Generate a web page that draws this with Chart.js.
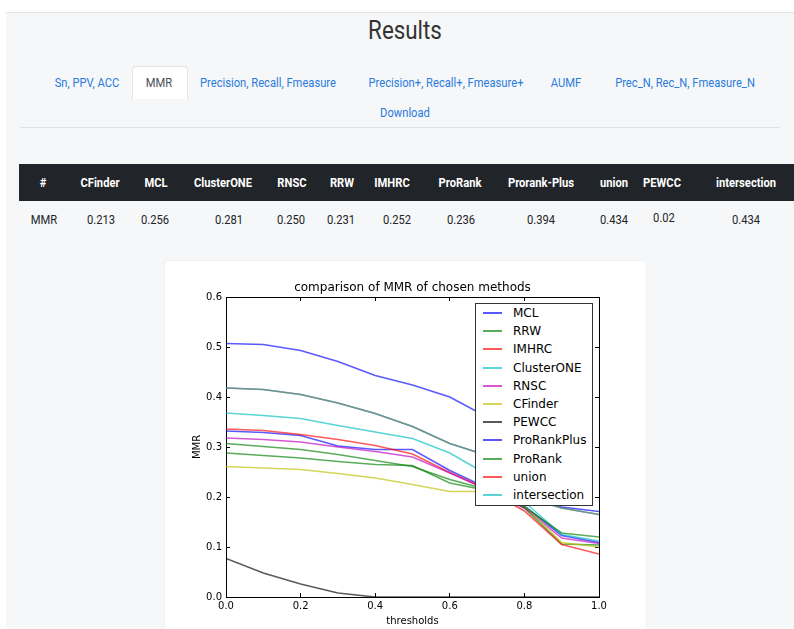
<!DOCTYPE html>
<html>
<head>
<meta charset="utf-8">
<title>Results - MMR</title>
<script src="https://cdn.jsdelivr.net/npm/chart.js@4.4.0/dist/chart.umd.min.js"></script>
<style>
  html, body { margin:0; padding:0; width:794px; height:629px; overflow:hidden; background:#fff; font-family: Roboto, "Open Sans", sans-serif; }
  #bg { position:absolute; left:6px; top:12px; right:0; bottom:0; background:#f6f7f8; border-top:1px solid #e3e4e6; }
  .t { position:absolute; white-space:nowrap; line-height:1; transform:translate(-50%,-50%) scaleX(.86); }
  .lnk { color:#2a7bde; font-size:13px; }
  .th { color:#fff; font-weight:bold; font-size:13px; }
  .td { color:#212529; font-size:13px; }
  #tab { position:absolute; left:132px; top:66px; width:54px; height:32px; background:#fff; border:1px solid #e2e5e8; border-bottom:none; border-radius:4px 4px 0 0; }
  #hr { position:absolute; left:20px; top:127px; width:760px; height:1px; background:#dfe2e5; }
  #thead { position:absolute; left:19px; top:164px; width:775px; height:37px; background:#212529; }
  #card { position:absolute; left:164px; top:260px; width:483px; height:380px; background:#fff; border:1px solid #f0f1f3; border-radius:4px; box-sizing:border-box; }
  #wrap { position:absolute; left:164px; top:260px; width:497px; height:369px; }
  #legend { position:absolute; left:475px; top:303px; width:118px; height:203px; box-sizing:border-box; background:#fff; border:1px solid #333; font-family:"DejaVu Sans"; font-size:12px; color:#000; }
  #legend .row { height:18.2px; display:flex; align-items:center; }
  #legend .hd { width:19px; height:2px; margin-left:7px; margin-right:11px; }
</style>
</head>
<body>
<div id="bg"></div>

<div class="t" style="left:405px;top:30px;font-size:26px;color:#333">Results</div>

<div id="tab"></div>
<div class="t lnk" style="left:87px;top:82px">Sn, PPV, ACC</div>
<div class="t" style="left:159px;top:82px;font-size:13px;color:#495057">MMR</div>
<div class="t lnk" style="left:268px;top:82px">Precision, Recall, Fmeasure</div>
<div class="t lnk" style="left:446px;top:82px">Precision+, Recall+, Fmeasure+</div>
<div class="t lnk" style="left:566px;top:82px">AUMF</div>
<div class="t lnk" style="left:685px;top:82px">Prec_N, Rec_N, Fmeasure_N</div>
<div class="t lnk" style="left:405px;top:112px">Download</div>
<div id="hr"></div>

<div id="thead"></div>
<div class="t th" style="left:43px;top:182px">#</div>
<div class="t th" style="left:100px;top:182px">CFinder</div>
<div class="t th" style="left:156px;top:182px">MCL</div>
<div class="t th" style="left:223px;top:182px">ClusterONE</div>
<div class="t th" style="left:292px;top:182px">RNSC</div>
<div class="t th" style="left:342px;top:182px">RRW</div>
<div class="t th" style="left:392px;top:182px">IMHRC</div>
<div class="t th" style="left:460px;top:182px">ProRank</div>
<div class="t th" style="left:541px;top:182px">Prorank-Plus</div>
<div class="t th" style="left:614px;top:182px">union</div>
<div class="t th" style="left:662px;top:182px">PEWCC</div>
<div class="t th" style="left:746px;top:182px">intersection</div>

<div class="t td" style="left:44px;top:219px">MMR</div>
<div class="t td" style="left:101px;top:219px">0.213</div>
<div class="t td" style="left:155px;top:219px">0.256</div>
<div class="t td" style="left:229px;top:219px">0.281</div>
<div class="t td" style="left:291px;top:219px">0.250</div>
<div class="t td" style="left:341px;top:219px">0.231</div>
<div class="t td" style="left:397px;top:219px">0.252</div>
<div class="t td" style="left:461px;top:219px">0.236</div>
<div class="t td" style="left:541px;top:219px">0.394</div>
<div class="t td" style="left:614px;top:219px">0.434</div>
<div class="t td" style="left:664px;top:217px">0.02</div>
<div class="t td" style="left:746px;top:219px">0.434</div>

<div id="card"></div>
<div id="wrap"><canvas id="mmrChart" width="497" height="369"></canvas></div>
<div id="legend"></div>

<script>
// x values (matching thresholds)
const thresholds = [0.0, 0.1, 0.2, 0.3, 0.4, 0.5, 0.6, 0.7, 0.8, 0.9, 1.0];

// MMR per method
const mcl         = [0.332, 0.329, 0.323, 0.302, 0.295, 0.295, 0.253, 0.218, 0.182, 0.123, 0.109];
const rrw         = [0.288, 0.283, 0.278, 0.271, 0.265, 0.263, 0.228, 0.213, 0.178, 0.106, 0.104];
const imhrc       = [0.336, 0.333, 0.325, 0.315, 0.303, 0.286, 0.249, 0.215, 0.172, 0.105, 0.086];
const clusterOne  = [0.368, 0.363, 0.357, 0.343, 0.330, 0.317, 0.288, 0.245, 0.190, 0.125, 0.112];
const rnsc        = [0.318, 0.315, 0.310, 0.300, 0.291, 0.280, 0.248, 0.215, 0.178, 0.118, 0.107];
const cfinder     = [0.261, 0.258, 0.255, 0.247, 0.238, 0.225, 0.211, 0.211, 0.182, 0.109, 0.100];
const pewcc       = [0.077, 0.048, 0.026, 0.008, 0.000, 0.000, 0.000, 0.000, 0.000, 0.000, 0.000];
const proRankPlus = [0.507, 0.505, 0.493, 0.471, 0.443, 0.424, 0.400, 0.360, 0.210, 0.180, 0.171];
const proRank     = [0.307, 0.301, 0.295, 0.285, 0.273, 0.261, 0.235, 0.215, 0.180, 0.128, 0.120];
const union       = [0.418, 0.415, 0.405, 0.388, 0.367, 0.341, 0.307, 0.283, 0.200, 0.178, 0.165];
const intersection= [0.418, 0.415, 0.405, 0.388, 0.367, 0.341, 0.307, 0.283, 0.200, 0.178, 0.165];

const methods = ['MCL','RRW','IMHRC','ClusterONE','RNSC','CFinder','PEWCC','ProRankPlus','ProRank','union','intersection'];
const series = [mcl, rrw, imhrc, clusterOne, rnsc, cfinder, pewcc, proRankPlus, proRank, union, intersection];

// old matplotlib colour cycle b g r c m y k, lines drawn semi-transparent
const A = 0.65;
const cycle = [[0,0,255],[0,128,0],[255,0,0],[0,191,191],[191,0,191],[191,191,0],[0,0,0]];
const colorOf = (i) => { const c = cycle[i % cycle.length]; return `rgba(${c[0]},${c[1]},${c[2]},${A})`; };

const font = (size) => ({ family:'DejaVu Sans', size, weight:'normal' });

const datasets = methods.map((name, i) => ({
  label: name,
  data: thresholds.map((t, k) => ({ x: t, y: series[i][k] })),
  borderColor: colorOf(i),
  backgroundColor: colorOf(i),
  borderWidth: 1.6,
  pointRadius: 0,
  tension: 0,
  fill: false,
  order: -i   // later series drawn on top, like matplotlib
}));

// inward tick marks + frame
const inTicks = { display:true, drawOnChartArea:false, drawTicks:true, tickLength:-4, color:'#000', lineWidth:1 };
const frame = { display:true, color:'#000', width:1 };

new Chart(document.getElementById('mmrChart'), {
  type: 'line',
  data: { datasets },
  options: {
    responsive: false,
    animation: false,
    events: [],
    layout: { padding: 0 },
    plugins: {
      legend: { display:false },
      tooltip: { enabled:false },
      title: { display:true, text:'comparison of MMR of chosen methods', color:'#000', font:font(12), padding:{ top:21, bottom:1.6 } }
    },
    scales: {
      x: {
        type:'linear', position:'bottom', min:0, max:1,
        ticks:{ stepSize:0.2, padding:7, color:'#000', font:font(10), maxRotation:0, autoSkip:false, callback:(v)=>Number(v).toFixed(1) },
        grid: inTicks, border: frame,
        title:{ display:true, text:'thresholds', color:'#000', font:font(10), padding:{ top:0, bottom:2 } },
        afterFit:(s)=>{ s.height = 32; }
      },
      x2: {
        type:'linear', position:'top', min:0, max:1,
        ticks:{ stepSize:0.2, display:false },
        grid: inTicks, border: frame,
        afterFit:(s)=>{ s.height = 0; }
      },
      y: {
        type:'linear', position:'left', min:0, max:0.6,
        ticks:{ stepSize:0.1, padding:8, color:'#000', font:font(10), callback:(v)=>Number(v).toFixed(1) },
        grid: inTicks, border: frame,
        title:{ display:true, text:'MMR', color:'#000', font:font(10), padding:{ top:27, bottom:0 } },
        afterFit:(s)=>{ s.width = 62; }
      },
      y2: {
        type:'linear', position:'right', min:0, max:0.6,
        ticks:{ stepSize:0.1, display:false },
        grid: inTicks, border: frame,
        afterFit:(s)=>{ s.width = 62; }
      }
    }
  }
});

// legend box (matplotlib-style, upper right inside the axes)
const leg = document.getElementById('legend');
datasets.forEach((d) => {
  const row = document.createElement('div'); row.className = 'row';
  const hd = document.createElement('span'); hd.className = 'hd'; hd.style.background = d.borderColor;
  const tx = document.createElement('span'); tx.textContent = d.label;
  row.appendChild(hd); row.appendChild(tx); leg.appendChild(row);
});
</script>
</body>
</html>
